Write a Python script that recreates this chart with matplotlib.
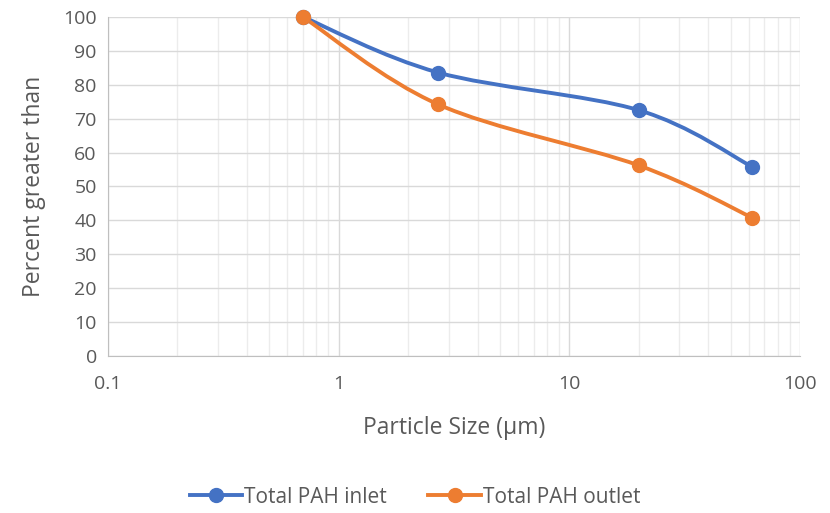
import numpy as np
import matplotlib.pyplot as plt
from matplotlib.path import Path
from matplotlib.patches import PathPatch
from matplotlib.lines import Line2D
from matplotlib.ticker import FixedLocator, LogLocator, NullFormatter

plt.rcParams['font.family'] = ['Open Sans', 'DejaVu Sans']

# particle size (um) and percent greater than
size_um = [0.7, 2.7, 20, 62]
pah_inlet = [100, 83.6, 72.5, 55.8]
pah_outlet = [100, 74.2, 56.2, 40.8]

BLUE = '#4472c4'
ORANGE = '#ed7d31'
TEXT = '#595959'


def smooth_path(xs, ys):
    # Catmull-Rom style bezier through the points, built in log-x space
    lx = np.log10(xs)
    ys = np.asarray(ys, float)
    pts = np.column_stack([lx, ys])
    n = len(pts)
    verts = [pts[0]]
    codes = [Path.MOVETO]
    for i in range(n - 1):
        p0 = pts[i - 1] if i > 0 else pts[i]
        p1 = pts[i]
        p2 = pts[i + 1]
        p3 = pts[i + 2] if i + 2 < n else pts[i + 1]
        c1 = p1 + (p2 - p0) / 6
        c2 = p2 - (p3 - p1) / 6
        verts += [c1, c2, p2]
        codes += [Path.CURVE4] * 3
    verts = np.array(verts)
    verts[:, 0] = 10 ** verts[:, 0]
    return Path(verts, codes)


fig = plt.figure(figsize=(8.3, 5.13), dpi=100)
ax = fig.add_axes([0.130, 0.306, 0.834, 0.661])
ax.set_xscale('log')
ax.set_xlim(0.1, 100)
ax.set_ylim(0, 100)

for ys, col in [(pah_inlet, BLUE), (pah_outlet, ORANGE)]:
    ax.add_patch(PathPatch(smooth_path(size_um, ys), fill=False, clip_on=False,
                           edgecolor=col, lw=2.8, capstyle='round', zorder=3))
    ax.plot(size_um, ys, 'o', color=col, ms=10, zorder=4, clip_on=False)

ax.yaxis.set_major_locator(FixedLocator(np.arange(0, 101, 10)))
ax.xaxis.set_major_locator(FixedLocator([0.1, 1, 10, 100]))
ax.xaxis.set_minor_locator(LogLocator(base=10, subs=np.arange(2, 10)))
ax.xaxis.set_minor_formatter(NullFormatter())
ax.set_xticklabels(['0.1', '1', '10', '100'])

ax.grid(True, which='major', color='#d9d9d9', lw=1.0)
ax.grid(True, which='minor', axis='x', color='#ececec', lw=1.0)
ax.set_axisbelow(True)
for s in ['top', 'right']:
    ax.spines[s].set_visible(False)
for s in ['left', 'bottom']:
    ax.spines[s].set_color('#bfbfbf')
ax.tick_params(which='both', length=0, labelsize=14, labelcolor=TEXT)
ax.tick_params(axis='x', pad=14)
ax.tick_params(axis='y', pad=8)

ax.set_xlabel('Particle Size (µm)', fontsize=16.5, color=TEXT, labelpad=16)
ax.set_ylabel('Percent greater than', fontsize=16.5, color=TEXT, labelpad=12)

handles = [Line2D([], [], color=BLUE, lw=2.8, marker='o', ms=10),
           Line2D([], [], color=ORANGE, lw=2.8, marker='o', ms=10)]
fig.legend(handles, ['Total PAH inlet', 'Total PAH outlet'],
           loc='center', bbox_to_anchor=(0.5, 0.031), ncol=2, frameon=False,
           fontsize=15, labelcolor=TEXT, handlelength=2.5,
           handletextpad=0.1, columnspacing=2.0)

fig.savefig('out.png', dpi=100)
